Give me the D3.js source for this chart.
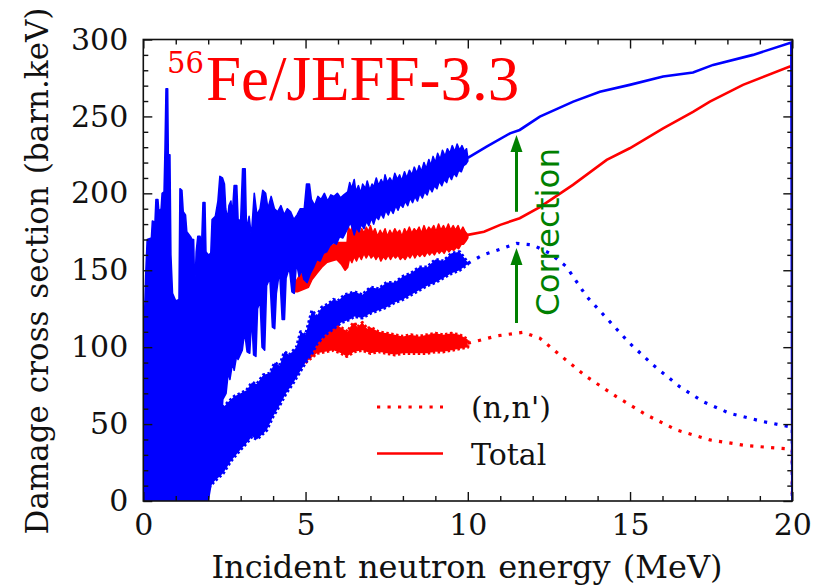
<!DOCTYPE html>
<html>
<head>
<meta charset="utf-8">
<script src="https://cdn.jsdelivr.net/npm/d3@7"></script>
<style>
body { margin: 0; background: #fff; }
text { font-family: "DejaVu Serif", serif; }
</style>
</head>
<body>
<svg id="chart"></svg>
<script>

// ---- axis ticks ----
var xMajorTicks = [0, 5, 10, 15, 20]
var xMinorTicks = [1, 2, 3, 4, 6, 7, 8, 9, 11, 12, 13, 14, 16, 17, 18, 19]
var yMajorTicks = [0, 50, 100, 150, 200, 250, 300]
var yMinorTicks = [10, 20, 30, 40, 60, 70, 80, 90, 110, 120, 130, 140, 160, 170, 180, 190, 210, 220, 230, 240, 260, 270, 280, 290]

// ---- noisy region 0-10 MeV, read as upper / lower envelopes [MeV, barn.keV] ----
var blueTotalHi = [[0,110],[0.04,122],[0.08,150],[0.12,170],[0.25,171],[0.28,182],[0.36,181],[0.39,196],[0.45,196],[0.48,188],
  [0.55,190],[0.58,200],[0.64,201],[0.67,230],[0.7,268],[0.75,268],[0.77,225],[0.82,225],[0.85,160],[0.9,135],[1.0,130],
  [1.1,131],[1.13,203],[1.19,202],[1.23,188],[1.3,186],[1.34,175],[1.45,172],[1.5,170],[1.55,170],[1.58,142],[1.61,150],
  [1.63,162],[1.68,172],[1.75,172],[1.79,162],[1.84,194],[1.9,194],[1.93,162],[2.0,160],[2.08,161],[2.12,183],[2.22,185],
  [2.3,195],[2.36,211],[2.44,210],[2.5,206],[2.54,190],[2.6,183],[2.64,192],[2.7,195],[2.74,185],[2.8,205],[2.88,205],
  [2.92,183],[3.0,182],[3.06,216],[3.14,216],[3.18,176],[3.26,185],[3.33,172],[3.42,200],[3.5,186],[3.6,190],[3.68,202],
  [3.77,200],[3.84,190],[3.94,198],[4.04,190],[4.14,188],[4.24,192],[4.34,186],[4.44,190],[4.54,188],[4.64,183],[4.74,186],
  [4.84,190],[4.96,190],[5.03,206],[5.12,206],[5.18,196],[5.28,192],[5.38,198],[5.48,196],[5.58,200],[5.68,195],[5.78,199],
  [5.88,198],[5.98,200],[6.08,197],[6.18,199],[6.3,201],[6.36,207],[6.42,203],[6.5,209],[6.55,201],[6.63,205],[6.7,200],
  [6.76,206],[6.85,203],[6.9,208],[6.98,202],[7.05,206],[7.1,204],[7.18,210],[7.25,205],[7.33,209],[7.4,206],[7.45,212],
  [7.52,207],[7.6,210],[7.68,207],[7.75,213],[7.83,209],[7.9,212],[7.96,208],[8.05,214],[8.12,210],[8.2,215],[8.28,212],
  [8.35,217],[8.43,213],[8.5,218],[8.57,214],[8.65,220],[8.72,216],[8.8,222],[8.86,218],[8.93,224],[9.0,220],[9.07,226],
  [9.15,222],[9.22,228],[9.3,224],[9.37,229],[9.45,226],[9.52,231],[9.6,227],[9.67,232],[9.75,228],[9.82,231],[9.9,227],
  [9.96,229],[10.0,223]]
var blueTotalLo = [[0,0],[2.0,0],[2.4,50],[2.45,66],[2.55,70],[2.62,84],[2.67,79],[2.75,90],[2.8,85],[2.88,95],[2.92,92],
  [3.05,98],[3.12,110],[3.2,97],[3.28,96],[3.34,120],[3.4,95],[3.47,94],[3.52,125],[3.6,130],[3.66,100],[3.74,98],[3.8,140],
  [3.9,145],[3.98,113],[4.05,112],[4.1,135],[4.2,150],[4.28,118],[4.35,118],[4.4,145],[4.5,152],[4.58,136],[4.65,135],
  [4.72,155],[4.8,146],[4.88,150],[4.95,144],[5.05,142],[5.15,148],[5.25,152],[5.35,157],[5.45,156],[5.55,161],[5.65,162],
  [5.75,166],[5.86,168],[5.95,167],[6.05,172],[6.15,171],[6.27,176],[6.38,181],[6.45,177],[6.5,173],[6.57,178],[6.65,175],
  [6.72,180],[6.8,177],[6.88,182],[6.95,179],[7.03,184],[7.1,180],[7.17,185],[7.25,183],[7.32,187],[7.4,184],[7.47,189],
  [7.55,186],[7.62,190],[7.7,187],[7.78,192],[7.85,189],[7.92,193],[8.0,191],[8.07,195],[8.15,192],[8.22,197],[8.3,194],
  [8.37,198],[8.45,195],[8.52,200],[8.6,197],[8.67,201],[8.75,199],[8.82,204],[8.9,201],[8.97,205],[9.05,203],[9.12,208],
  [9.2,205],[9.27,209],[9.35,207],[9.42,212],[9.5,209],[9.57,213],[9.65,211],[9.72,215],[9.8,214],[9.87,218],[9.94,219],
  [10.0,221]]

var blueNnHi = [[0,58],[2.0,58],[2.47,61],[2.6,64],[2.8,68],[3.0,70],[3.18,72],[3.35,77],[3.5,76],[3.7,82],[3.9,83],
  [4.05,90],[4.2,88],[4.35,97],[4.5,95],[4.72,100],[4.85,110],[5.0,108],[5.2,124],[5.34,120],[5.5,126],[5.7,128],
  [5.86,131],[6.0,130],[6.2,134],[6.37,135],[6.5,136],[6.75,134],[7.0,139],[7.25,138],[7.5,142],[7.75,142],[8.0,146],
  [8.25,148],[8.5,152],[8.75,152],[9.0,157],[9.25,156],[9.5,161],[9.75,162],[10.0,155]]
var blueNnLo = [[0,0],[1.5,0],[1.95,7],[2.2,13],[2.46,18],[2.7,26],[2.98,33],[3.2,38],[3.35,42],[3.5,40],[3.8,46],
  [4.0,55],[4.2,62],[4.4,70],[4.6,76],[4.8,83],[5.0,90],[5.2,96],[5.35,102],[5.6,108],[5.86,112],[6.1,116],[6.37,118],
  [6.5,120],[6.75,119],[7.0,122],[7.25,124],[7.5,126],[7.75,129],[8.0,131],[8.25,134],[8.5,137],[8.75,140],[9.0,142],
  [9.25,145],[9.5,148],[9.75,150],[10.0,154]]

var redTotalHi = [[4.62,140],[4.8,146],[5.0,150],[5.35,158],[5.6,164],[6.0,168],[6.28,168],[6.32,178],[6.38,175],[6.45,179],
  [6.52,176],[6.6,178],[6.66,173],[6.73,177],[6.8,174],[6.87,178],[6.94,175],[7.0,179],[7.07,174],[7.14,177],[7.22,172],
  [7.3,176],[7.37,173],[7.45,177],[7.52,172],[7.6,176],[7.67,173],[7.75,177],[7.82,174],[7.9,176],[7.97,172],[8.05,177],
  [8.12,174],[8.2,178],[8.27,174],[8.35,177],[8.42,175],[8.5,178],[8.57,174],[8.65,179],[8.72,175],[8.8,178],[8.87,176],
  [8.95,179],[9.02,175],[9.1,180],[9.17,176],[9.25,179],[9.32,176],[9.4,180],[9.47,176],[9.55,179],[9.62,176],[9.7,179],
  [9.77,175],[9.85,178],[9.92,175],[10.0,173]]
var redTotalLo = [[4.62,136],[4.75,136],[5.09,139],[5.2,144],[5.35,148],[5.5,152],[5.65,155],[5.8,156],[5.96,157],
  [6.1,154],[6.22,150],[6.3,152],[6.36,158],[6.43,155],[6.5,159],[6.57,156],[6.65,160],[6.72,157],[6.8,161],[6.87,158],
  [6.95,161],[7.02,158],[7.1,160],[7.17,157],[7.25,160],[7.32,156],[7.4,159],[7.47,157],[7.55,160],[7.62,157],[7.7,160],
  [7.77,158],[7.85,160],[7.92,157],[8.0,159],[8.07,157],[8.15,160],[8.22,158],[8.3,161],[8.37,158],[8.45,161],[8.52,159],
  [8.6,161],[8.67,159],[8.75,162],[8.82,160],[8.9,162],[8.97,160],[9.05,163],[9.12,161],[9.2,163],[9.27,161],[9.35,164],
  [9.42,162],[9.5,164],[9.57,163],[9.65,165],[9.72,164],[9.8,167],[9.87,167],[9.94,169],[10.0,171]]

var redNnHi = [[4.0,80],[4.5,90],[5.0,104],[5.5,112],[6.0,114],[6.3,110],[6.4,114],[6.5,116],[6.6,113],[6.75,116],[6.9,112],
  [7.0,113],[7.25,110],[7.5,109],[7.75,108],[8.0,107],[8.25,108],[8.5,107],[8.75,108],[9.0,109],[9.25,108],[9.5,109],
  [9.75,108],[10.0,105]]
var redNnLo = [[4.0,72],[4.5,82],[4.72,87],[5.0,90],[5.35,96],[5.6,97],[5.86,98],[6.1,96],[6.27,94],[6.5,97],[6.75,98],
  [7.0,96],[7.25,97],[7.5,96],[7.75,95],[8.0,96],[8.25,96],[8.5,96],[8.75,96],[9.0,97],[9.25,97],[9.5,98],[9.75,99],[10.0,100]]

// ---- smooth region 10-20 MeV ----
var blueTotalLine = [[10.0,223],[10.58,230.4],[11.3,239],[11.6,241.2],[12.22,249.9],[13.25,259.6],[14.07,266],[14.99,270.5],
  [16.02,275.9],[16.94,278.5],[17.56,283.5],[18.79,290],[19.97,298],[20,0]]
var redTotalLine = [[10.0,173],[10.5,175],[11.0,179.5],[11.6,183.8],[12.22,191],[13.24,205.5],[14.28,221.7],[14.99,229.3],
  [16.02,242.3],[16.94,253],[17.46,259.6],[18.48,270.5],[19.92,282.4],[20,282.4],[20,0]]
var blueNnLine = [[10.0,154.5],[10.47,160],[10.99,163.6],[11.5,167.5],[12.01,166.4],[12.53,161],[13.04,152.3],[13.66,133],
  [14.28,118.8],[14.99,102.5],[15.71,88.4],[16.53,74.3],[17.25,64.6],[18.07,57],[19.1,51.6],[19.92,48.3],[20,48],[20,0]]
var redNnLine = [[10.0,102.5],[10.89,107.3],[11.71,109.7],[12.22,105.8],[12.84,94.9],[13.66,80.8],[14.58,67.8],[15.51,55.9],
  [16.43,46.2],[17.46,39.7],[18.59,36],[19.92,33.8],[20,33.5],[20,0]]

// ---- annotations ----
var arrowE = [11.5, 11.5]
var arrowFrom = [188, 115.7]
var arrowTo = [238, 164.5]
var legendLabels = ["(n,n')", "Total"]

var dimensions = {
  width: 826,
  height: 586,
  margin: { top: 39.5, bottom: 85, left: 143.3, right: 33.7 }
}
dimensions.boundedWidth = dimensions.width - dimensions.margin.left - dimensions.margin.right
dimensions.boundedHeight = dimensions.height - dimensions.margin.top - dimensions.margin.bottom

var blue = "#0000ff", red = "#ff0000", green = "#008000"

var svg = d3.select("#chart")
  .attr("width", dimensions.width)
  .attr("height", dimensions.height)

var bounds = svg.append("g")
  .attr("transform", "translate(" + dimensions.margin.left + "," + dimensions.margin.top + ")")

var xScale = d3.scaleLinear().domain([0, 20]).range([0, dimensions.boundedWidth])
var yScale = d3.scaleLinear().domain([0, 300]).range([dimensions.boundedHeight, 0])

bounds.append("clipPath").attr("id", "clip")
  .append("rect").attr("width", dimensions.boundedWidth).attr("height", dimensions.boundedHeight)

var plot = bounds.append("g").attr("clip-path", "url(#clip)")

var line = d3.line().x(function (d) { return xScale(d[0]) }).y(function (d) { return yScale(d[1]) })

function band(hi, lo, color, dotted) {
  var pts = hi.concat(lo.slice().reverse())
  plot.append("path")
    .attr("d", line(pts) + "Z")
    .attr("fill", color)
    .attr("stroke", color)
    .attr("stroke-width", dotted ? 3.2 : 1.6)
    .attr("stroke-dasharray", dotted ? "2.5,2.5" : null)
    .attr("stroke-linejoin", "round")
}

function curve(data, color, dotted) {
  plot.append("path")
    .attr("d", line(data))
    .attr("fill", "none")
    .attr("stroke", color)
    .attr("stroke-width", dotted ? 3.2 : 2.6)
    .attr("stroke-dasharray", dotted ? "3.2,7.3" : null)
}

// red first, blue on top
band(redTotalHi, redTotalLo, red, false)
band(redNnHi, redNnLo, red, true)
curve(redTotalLine, red, false)
curve(redNnLine, red, true)
band(blueTotalHi, blueTotalLo, blue, false)
band(blueNnHi, blueNnLo, blue, true)
curve(blueTotalLine, blue, false)
curve(blueNnLine, blue, true)

// ---- axes with inward ticks on all sides ----
function styleAxis(g) {
  g.select(".domain").remove()
  g.selectAll("line").attr("stroke", "#111").attr("stroke-width", 1.4)
  g.selectAll("text").style("font-family", "DejaVu Serif").style("font-size", "30px").attr("fill", "#111")
}

bounds.append("g").attr("transform", "translate(0," + dimensions.boundedHeight + ")")
  .call(d3.axisBottom(xScale).tickValues(xMajorTicks).tickSize(-9).tickPadding(13).tickFormat(d3.format("d")))
  .call(styleAxis)
bounds.append("g").attr("transform", "translate(0," + dimensions.boundedHeight + ")")
  .call(d3.axisBottom(xScale).tickValues(xMinorTicks).tickSize(-5).tickFormat(""))
  .call(styleAxis)
bounds.append("g")
  .call(d3.axisTop(xScale).tickValues(xMajorTicks).tickSize(-9).tickFormat(""))
  .call(styleAxis)
bounds.append("g")
  .call(d3.axisTop(xScale).tickValues(xMinorTicks).tickSize(-5).tickFormat(""))
  .call(styleAxis)
bounds.append("g")
  .call(d3.axisLeft(yScale).tickValues(yMajorTicks).tickSize(-9).tickPadding(15).tickFormat(d3.format("d")))
  .call(styleAxis)
bounds.append("g")
  .call(d3.axisLeft(yScale).tickValues(yMinorTicks).tickSize(-5).tickFormat(""))
  .call(styleAxis)
bounds.append("g").attr("transform", "translate(" + dimensions.boundedWidth + ",0)")
  .call(d3.axisRight(yScale).tickValues(yMajorTicks).tickSize(-9).tickFormat(""))
  .call(styleAxis)
bounds.append("g").attr("transform", "translate(" + dimensions.boundedWidth + ",0)")
  .call(d3.axisRight(yScale).tickValues(yMinorTicks).tickSize(-5).tickFormat(""))
  .call(styleAxis)

bounds.append("rect")
  .attr("width", dimensions.boundedWidth)
  .attr("height", dimensions.boundedHeight)
  .attr("fill", "none")
  .attr("stroke", "#111")
  .attr("stroke-width", 1.6)

// axis labels
svg.append("text")
  .attr("x", 467)
  .attr("y", 578)
  .attr("text-anchor", "middle")
  .style("font-size", "32px")
  .style("word-spacing", "2px")
  .attr("fill", "#111")
  .text("Incident neutron energy (MeV)")

svg.append("text")
  .attr("transform", "translate(48,271) rotate(-90)")
  .attr("text-anchor", "middle")
  .style("font-size", "31px")
  .style("word-spacing", "2px")
  .attr("fill", "#111")
  .text("Damage cross section (barn.keV)")

// title
svg.append("text")
  .attr("x", 167).attr("y", 73)
  .style("font-family", "DejaVu Serif").style("font-size", "29px")
  .attr("fill", red)
  .text("56")
svg.append("text")
  .attr("x", 206).attr("y", 100)
  .style("font-family", "Liberation Serif").style("font-size", "63px")
  .attr("fill", red)
  .text("Fe/JEFF-3.3")

// correction arrows
arrowE.forEach(function (e, i) {
  var x = xScale(e), y0 = yScale(arrowFrom[i]), y1 = yScale(arrowTo[i])
  bounds.append("line")
    .attr("x1", x).attr("x2", x).attr("y1", y0).attr("y2", y1 + 14)
    .attr("stroke", green).attr("stroke-width", 3)
  bounds.append("path")
    .attr("d", "M" + x + "," + y1 + " L" + (x - 6) + "," + (y1 + 17) + " L" + (x + 6) + "," + (y1 + 17) + "Z")
    .attr("fill", green)
})

svg.append("text")
  .attr("transform", "translate(559,232) rotate(-90)")
  .attr("text-anchor", "middle")
  .style("font-family", "DejaVu Sans").style("font-size", "32.5px")
  .attr("fill", green)
  .text("Correction")

// legend
var legend = svg.append("g")
legendLabels.forEach(function (label, i) {
  var ly = 407 + i * 46.5
  legend.append("line")
    .attr("x1", 377).attr("x2", 443).attr("y1", ly).attr("y2", ly)
    .attr("stroke", red)
    .attr("stroke-width", i == 0 ? 3.2 : 2.6)
    .attr("stroke-dasharray", i == 0 ? "3.2,7.3" : null)
  legend.append("text")
    .attr("x", 471).attr("y", ly + 11)
    .style("font-size", "30px")
    .attr("fill", "#111")
    .text(label)
})

</script>
</body>
</html>
